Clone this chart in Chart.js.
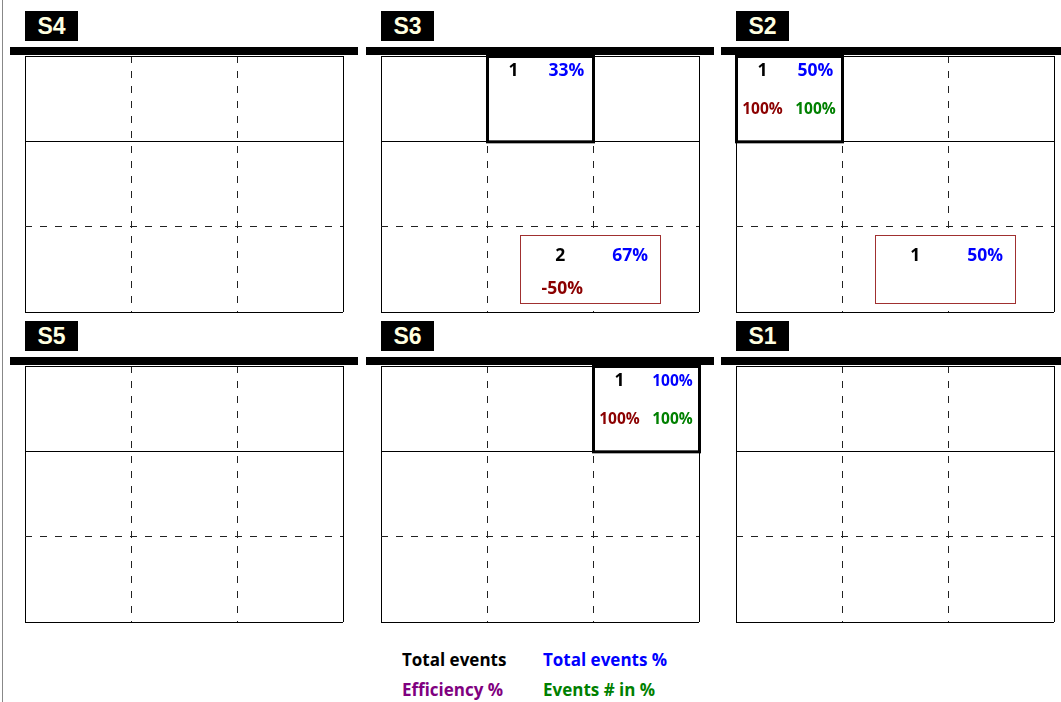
<!DOCTYPE html>
<html>
<head>
<meta charset="utf-8">
<script src="https://cdn.jsdelivr.net/npm/chart.js@4.4.0/dist/chart.umd.min.js"></script>
<style>
    body{margin:0;background:#fff;width:1061px;height:702px;overflow:hidden;position:relative;font-family:"Open Sans",sans-serif;}
    .vline{position:absolute;left:2px;top:0;width:1px;height:702px;background:#888;}
    .bar{position:absolute;height:8px;background:#000;}
    .tag{position:absolute;width:53px;height:30px;background:#000;color:#ffffe0;font:bold 23px "Liberation Sans",Arial,sans-serif;text-align:center;line-height:31px;}
    .panel{position:absolute;}
    .legend{position:absolute;font-weight:bold;font-size:17px;line-height:22px;white-space:nowrap;}
</style>
</head>
<body>
<div class="vline"></div>
<div id="board"></div>
<div class="legend" style="left:402px;top:649px;color:#000">Total events</div>
<div class="legend" style="left:543px;top:649px;color:#0000ff">Total events %</div>
<div class="legend" style="left:402px;top:679px;color:#800080">Efficiency %</div>
<div class="legend" style="left:543px;top:679px;color:#008000">Events # in %</div>
<script>
// sections, in the order they are laid out (3 per row)
const sections = ["S4", "S3", "S2", "S5", "S6", "S1"];

// top-row cells that hold events
const hotSection = ["S3", "S2", "S6"];
const hotRow = [0, 0, 0];
const hotCol = [1, 0, 2];
const hotTotal = [1, 1, 1];
const hotTotalPct = [33, 50, 100];
const hotEfficiency = [null, 100, 100];
const hotInPct = [null, 100, 100];

// boxes on the bottom row
const boxSection = ["S3", "S2"];
const boxTotal = [2, 1];
const boxTotalPct = [67, 50];
const boxEfficiency = [-50, null];

const panelLeft = [25, 381, 736];
const panelTop = [56, 366];
const panelW = 318, panelH = 256, pad = 6;

function pctText(v) {
    return v + "%";
}
function fontFor(v) {
    // three digit numbers are squeezed a bit
    return "bold " + (Math.abs(v) >= 100 ? 15.5 : 17.5) + "px 'Open Sans', sans-serif";
}

const cellPlugin = {
    id: 'cells',
    afterDraw(chart, args, opts) {
        const ctx = chart.ctx;
        const x = chart.scales.x;
        const y = chart.scales.y;
        const sec = opts.section;
        ctx.save();
        ctx.textAlign = 'center';
        ctx.textBaseline = 'middle';

        const put = (v, txt, col, row, color) => {
            ctx.font = fontFor(v);
            ctx.fillStyle = color;
            ctx.fillText(txt, x.getPixelForValue(col), y.getPixelForValue(row));
        };

        hotSection.forEach((s, i) => {
            if (s !== sec) return;
            const c = hotCol[i], r = hotRow[i];
            const x0 = x.getPixelForValue(c), x1 = x.getPixelForValue(c + 1);
            const y0 = y.getPixelForValue(r), y1 = y.getPixelForValue(r + 1);
            ctx.fillStyle = '#fff';
            ctx.fillRect(x0, y0, x1 - x0, y1 - y0);
            ctx.lineWidth = 3;
            ctx.strokeStyle = '#000';
            ctx.strokeRect(x0 + 0.5, y0 + 0.5, x1 - x0, y1 - y0);
            put(hotTotal[i], String(hotTotal[i]), c + 0.25, r + 0.18, '#000');
            put(hotTotalPct[i], pctText(hotTotalPct[i]), c + 0.75, r + 0.18, '#0000ff');
            if (hotEfficiency[i] !== null) put(hotEfficiency[i], pctText(hotEfficiency[i]), c + 0.25, r + 0.63, '#8b0000');
            if (hotInPct[i] !== null) put(hotInPct[i], pctText(hotInPct[i]), c + 0.75, r + 0.63, '#008000');
        });

        boxSection.forEach((s, i) => {
            if (s !== sec) return;
            const x0 = Math.round(x.getPixelForValue(1.31)), x1 = Math.round(x.getPixelForValue(2.63));
            const y0 = Math.round(y.getPixelForValue(2.1)), y1 = Math.round(y.getPixelForValue(2.9));
            ctx.fillStyle = '#fff';
            ctx.fillRect(x0, y0, x1 - x0, y1 - y0);
            ctx.fillStyle = '#a03030';
            ctx.fillRect(x0, y0, x1 - x0 + 1, 1);
            ctx.fillRect(x0, y1, x1 - x0 + 1, 1);
            ctx.fillRect(x0, y0, 1, y1 - y0 + 1);
            ctx.fillRect(x1, y0, 1, y1 - y0 + 1);
            put(boxTotal[i], String(boxTotal[i]), 1.69, 2.34, '#000');
            put(boxTotalPct[i], pctText(boxTotalPct[i]), 2.35, 2.34, '#0000ff');
            if (boxEfficiency[i] !== null) put(boxEfficiency[i], pctText(boxEfficiency[i]), 1.71, 2.73, '#8b0000');
        });
        ctx.restore();
    }
};

const board = document.getElementById('board');

sections.forEach((s, i) => {
    const left = panelLeft[i % 3];
    const top = panelTop[Math.floor(i / 3)];

    const tag = document.createElement('div');
    tag.className = 'tag';
    tag.style.left = left + 'px';
    tag.style.top = (top - 45) + 'px';
    tag.textContent = s;
    board.appendChild(tag);

    const canvas = document.createElement('canvas');
    canvas.className = 'panel';
    canvas.width = panelW + pad * 2;
    canvas.height = panelH + pad * 2;
    canvas.style.left = (left - pad) + 'px';
    canvas.style.top = (top - pad) + 'px';
    board.appendChild(canvas);

    const bar = document.createElement('div');
    bar.className = 'bar';
    bar.style.left = (left - 15) + 'px';
    bar.style.top = (top - 9) + 'px';
    bar.style.width = (panelW + 30) + 'px';
    board.appendChild(bar);

    const edge = v => v === 0 || v === 3;

    new Chart(canvas, {
        type: 'scatter',
        data: { datasets: [] },
        options: {
            responsive: false,
            animation: false,
            events: [],
            layout: { padding: pad },
            plugins: {
                legend: { display: false },
                tooltip: { enabled: false },
                cells: { section: s }
            },
            scales: {
                x: {
                    type: 'linear', min: 0, max: 3,
                    ticks: { display: false, stepSize: 1 },
                    grid: {
                        drawTicks: false,
                        color: ctx => edge(ctx.tick.value) ? '#000' : '#222'
                    },
                    border: {
                        display: false,
                        dash: ctx => edge(ctx.tick.value) ? [] : [7, 8]
                    },
                    afterFit: sc => { sc.height = 0; }
                },
                y: {
                    type: 'linear', min: 0, max: 3, reverse: true,
                    ticks: { display: false, stepSize: 1 },
                    grid: {
                        drawTicks: false,
                        color: ctx => ctx.tick.value === 2 ? '#222' : '#000'
                    },
                    border: {
                        display: false,
                        dash: ctx => ctx.tick.value === 2 ? [7, 8] : []
                    },
                    afterFit: sc => { sc.width = 0; }
                }
            }
        },
        plugins: [cellPlugin]
    });
});
</script>
</body>
</html>
